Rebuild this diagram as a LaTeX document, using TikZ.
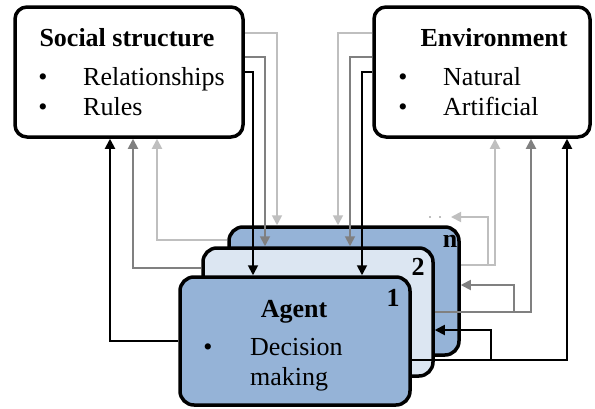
\documentclass[tikz,border=0pt]{standalone}
\usepackage{fontspec}
\setmainfont{Liberation Serif}
\usepackage{xcolor}
\definecolor{agentBlue}{HTML}{95B3D7}
\definecolor{paleBlue}{HTML}{DCE6F2}
\definecolor{lightLine}{HTML}{BFBFBF}
\definecolor{midLine}{HTML}{808080}
\usepackage{tikz}
\usetikzlibrary{arrows.meta}
\tikzset{arrow/.style = {> = {Triangle[length = 10pt, width = 10pt]}}}
\usetikzlibrary{positioning}

\begin{document}
\begin{tikzpicture}[x = 1pt, y = -1pt,
	box/.style = {rectangle, draw, line width = 3.5pt, rounded corners = 12pt, minimum width = 228pt, minimum height = 130pt, inner sep = 0pt},
	card/.style = {box, minimum width = 230pt, minimum height = 128pt, rounded corners = 14pt},
	title/.style = {font = \fontsize{26}{30}\selectfont\bfseries, anchor = base, inner sep = 0pt},
	item/.style = {font = \fontsize{26}{30}\selectfont, anchor = base west, inner sep = 0pt},
	bullet/.style = {font = \fontsize{26}{30}\selectfont, anchor = base, inner sep = 0pt},
	link/.style = {line width = 1.8pt}]
	\useasboundingbox (0, 0) rectangle (595, 408);

	%% Context boxes
	\node[box] (social) at (129, 72) {};
	\node[box, minimum width = 216pt] (env) at (482, 72) {};

	\node[title] (socialtitle) at (127, 46) {Social structure};
	\node[bullet] (socialdot1) at (43, 85) {\textbullet};
	\node[item] (relations) at (83, 85) {Relationships};
	\node[bullet] (socialdot2) at (43, 115) {\textbullet};
	\node[item] (rules) at (83, 115) {Rules};

	\node[title] (envtitle) at (494, 46) {Environment};
	\node[bullet] (envdot1) at (403, 85) {\textbullet};
	\node[item] (natural) at (443, 85) {Natural};
	\node[bullet] (envdot2) at (403, 115) {\textbullet};
	\node[item] (artificial) at (443, 115) {Artificial};

	%% Agents (back to front)
	\node[card, fill = agentBlue] (cardn) at (344, 291) {};
	\node[title] (numn) at (450, 247) {n};
	\node[card, fill = paleBlue] (card2) at (318, 312) {};
	\node[title] (num2) at (418, 275) {2};
	\node[card, fill = agentBlue] (card1) at (295, 341) {};
	\node[title] (num1) at (393, 306) {1};

	\node[title] (agenttitle) at (294, 317) {Agent};
	\node[bullet] (agentdot) at (208, 355) {\textbullet};
	\node[item] (decision) at (250, 355) {Decision};
	\node[item] (making) at (250, 385) {making};

	\coordinate (next) at (451, 217);
	\coordinate (dotsA) at (441, 217);
	\coordinate (dotsB) at (429, 217);

	%% Arrows...
	% ... social structure to agents
	\draw[->, arrow, link, lightLine] ([yshift = 39pt]social.east) -| ([xshift = -67pt]cardn.north);
	\draw[->, arrow, link, midLine] ([yshift = 15pt]social.east) -| ([xshift = -53pt]card2.north);
	\draw[->, arrow, link] (social.east) -| ([xshift = -42pt]card1.north);

	% ... environment to agents
	\draw[->, arrow, link, lightLine] ([yshift = 39pt]env.west) -| ([xshift = -6pt]cardn.north);
	\draw[->, arrow, link, midLine] ([yshift = 15pt]env.west) -| ([xshift = 32pt]card2.north);
	\draw[->, arrow, link] (env.west) -| ([xshift = 67pt]card1.north);

	% ... agents to social structure
	\draw[->, arrow, link] (card1.west) -| ([xshift = -19pt]social.south);
	\draw[->, arrow, link, midLine] ([yshift = 44pt]card2.west) -| ([xshift = 4pt]social.south);
	\draw[->, arrow, link, lightLine] ([yshift = 51pt]cardn.west) -| ([xshift = 28pt]social.south);

	% ... agents to environment
	\draw[->, arrow, link, lightLine] ([yshift = 26pt]cardn.east) -| ([xshift = 13pt]env.south);
	\draw[->, arrow, link, midLine] (card2.east) -| ([xshift = 49pt]env.south);
	\draw[->, arrow, link] ([yshift = -19pt]card1.east) -| ([xshift = 85pt]env.south);

	% ... agent to next agent
	\draw[->, arrow, link] ([yshift = -19pt]card1.east) -- ++(79, 0) |- ([yshift = -18pt]card2.east);
	\draw[->, arrow, link, midLine] (card2.east) -- ++(79, 0) |- ([yshift = 6pt]cardn.east);
	\draw[->, arrow, link, lightLine] ([yshift = 26pt]cardn.east) -- ++(27, 0) |- (next);
	\draw[link, lightLine, line width = 2.5pt, dash pattern = on 2.5pt off 7.5pt] (dotsA) -- (dotsB);
\end{tikzpicture}
\end{document}
